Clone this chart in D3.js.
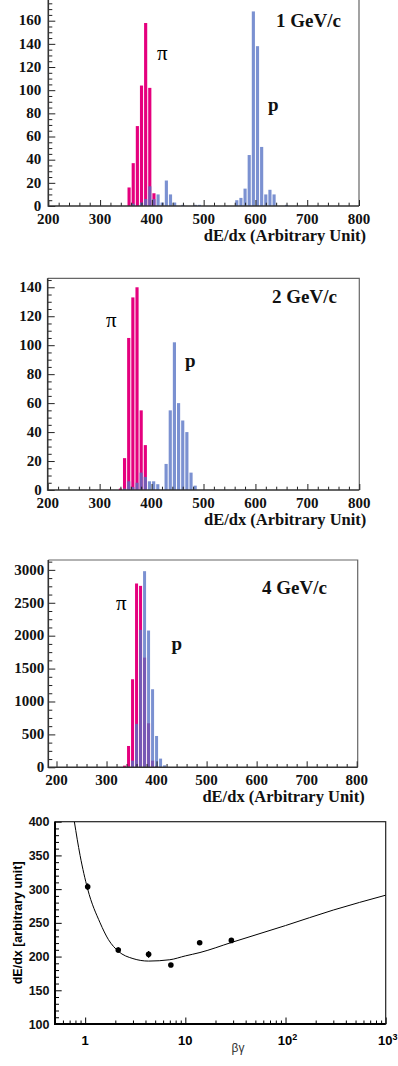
<!DOCTYPE html>
<html>
<head>
<meta charset="utf-8">
<script src="https://cdn.jsdelivr.net/npm/d3@7"></script>
<style>
  body { margin: 0; background: #fff; }
</style>
</head>
<body>
<div id="chart"></div>
<script>
// ---- histogram data (bin centres in dE/dx units, bin width 8) ----
const binWidth = 8;

const pion1Bins = [356, 364, 372, 380, 388, 396, 404];
const pion1Counts = [16, 37, 69, 104, 158, 102, 11];
const proton1Bins = [364, 380, 388, 396, 404, 412, 420, 428, 436, 444, 460, 484, 492,
  564, 572, 580, 588, 596, 604, 612, 620, 628, 636, 660];
const proton1Counts = [2, 3, 6, 17, 6, 10, 3, 22, 10, 3, 1, 1, 1,
  5, 7, 15, 44, 168, 138, 51, 10, 14, 10, 1];

const pion2Bins = [340, 348, 356, 364, 372, 380, 388];
const pion2Counts = [1, 22, 105, 133, 140, 55, 31];
const proton2Bins = [348, 356, 364, 372, 380, 388, 396, 404, 412, 428, 436, 444, 452, 460, 468, 476, 484];
const proton2Counts = [1, 6, 2, 5, 12, 9, 6, 6, 4, 18, 55, 102, 60, 48, 40, 12, 3];

const pion3Bins = [336, 344, 352, 360, 368, 376, 384, 392, 400];
const pion3Counts = [25, 324, 1338, 2793, 2757, 1667, 669, 101, 20];
const proton3Bins = [344, 352, 360, 368, 376, 384, 392, 400, 408, 416, 424];
const proton3Counts = [10, 101, 659, 2088, 2980, 2078, 1186, 476, 132, 30, 5];

const momentumLabels = ['1 GeV/c', '2 GeV/c', '4 GeV/c'];
const xTickValues = [200, 300, 400, 500, 600, 700, 800];

// ---- dE/dx vs beta*gamma ----
const bgValues = [1.06, 2.14, 4.3, 7.17, 13.9, 28.8];
const dedxValues = [303.6, 209.7, 203.3, 187.4, 220.5, 224];
const dedxErrors = [5, 4, 5, 2, 2, 2];

// fitted curve
const fitBg = [0.78, 0.89, 1.06, 1.41, 1.71, 2.14, 3, 4.3, 7, 10, 14, 29, 100, 300, 1000];
const fitDedx = [400, 350, 300, 250, 225, 208, 197, 193.3, 195.3, 201, 206, 221, 246, 269, 291];

const pink = '#e5007e';
const blue = 'rgba(86, 114, 196, 0.78)';
const serif = 'Liberation Serif';
const sans = 'Liberation Sans';

const svg = d3.select('#chart')
  .append('svg')
  .attr('width', 398)
  .attr('height', 1066);


// tick marks only; labels are drawn separately
function tickAxis(g) {
  g.select('.domain').remove();
  g.selectAll('.tick line').attr('stroke', '#222').attr('stroke-width', 1);
}

function labels(g, vals, fx, fy, anchor, font, size, fmt) {
  g.append('g')
    .selectAll('text')
    .data(vals)
    .enter()
    .append('text')
    .attr('x', fx)
    .attr('y', fy)
    .attr('text-anchor', anchor)
    .attr('fill', '#111')
    .style('font-family', font)
    .style('font-size', size + 'px')
    .style('font-weight', 'bold')
    .text(fmt);
}


function drawHist(o) {
  const g = svg.append('g');

  const x = d3.scaleLinear().domain(o.xDomain).range([o.left, o.right]);
  const y = d3.scaleLinear().domain([0, o.yMax]).range([o.bottom, o.top]);
  const bw = x(binWidth) - x(0);

  const bars = (bins, counts, fill) => {
    g.append('g')
      .selectAll('rect')
      .data(bins.map((b, i) => ({c: b, n: counts[i]})))
      .enter()
      .append('rect')
      .attr('x', d => x(d.c - binWidth / 2) + 0.5)
      .attr('width', bw - 1)
      .attr('y', d => y(d.n))
      .attr('height', d => y(0) - y(d.n))
      .attr('fill', fill);
  };
  bars(o.pionBins, o.pionCounts, pink);
  bars(o.protonBins, o.protonCounts, blue);

  // right / top frame
  g.append('path')
    .attr('d', `M${o.left},${o.top}H${o.right}V${o.bottom}`)
    .attr('fill', 'none')
    .attr('stroke', '#666')
    .attr('stroke-width', 1.2);

  // x axis
  const xMinor = d3.range(200, o.xDomain[1] + 0.1, 20).filter(v => v % 100 !== 0);
  g.append('g')
    .attr('transform', `translate(0,${o.bottom})`)
    .call(d3.axisBottom(x).tickValues(xMinor).tickSize(-3.3).tickFormat(''))
    .call(tickAxis);
  g.append('g')
    .attr('transform', `translate(0,${o.bottom})`)
    .call(d3.axisBottom(x).tickValues(xTickValues).tickSize(-6).tickFormat(''))
    .call(tickAxis);
  labels(g, xTickValues, d => x(d), o.bottom + 17.5, 'middle', serif, 15, d => d);

  // y axis
  const yMajor = d3.range(0, o.yMax, o.yStep);
  const yMinor = d3.range(0, o.yMax, o.yStep / 4).filter(v => v % o.yStep !== 0);
  g.append('g')
    .attr('transform', `translate(${o.left},0)`)
    .call(d3.axisLeft(y).tickValues(yMinor).tickSize(-4).tickFormat(''))
    .call(tickAxis);
  g.append('g')
    .attr('transform', `translate(${o.left},0)`)
    .call(d3.axisLeft(y).tickValues(yMajor).tickSize(-7).tickFormat(''))
    .call(tickAxis);
  labels(g, yMajor, o.left - o.yPad, d => y(d) + 4.8, 'end', serif, 15, d => d);

  // left / bottom axis lines
  g.append('path')
    .attr('d', `M${o.left},${o.top}V${o.bottom}H${o.right}`)
    .attr('fill', 'none')
    .attr('stroke', '#333')
    .attr('stroke-width', 1.6);

  // texts
  labels(g, ['dE/dx (Arbitrary Unit)'], o.right + 7, o.bottom + 35, 'end', serif, 16.5, d => d);
  labels(g, [o.momentum], o.momX, o.momY, 'end', serif, 19, d => d);
  labels(g, ['p'], o.pX, o.pY, 'start', serif, 19, d => d);

  g.append('text')
    .attr('x', o.piX)
    .attr('y', o.piY)
    .style('font-family', serif)
    .style('font-size', '21px')
    .text('π');
}

drawHist({
  left: 48.3, right: 359, top: -0.5, bottom: 206,
  xDomain: [200, 800], yMax: 178.3, yStep: 20, yPad: 7,
  pionBins: pion1Bins, pionCounts: pion1Counts,
  protonBins: proton1Bins, protonCounts: proton1Counts,
  momentum: momentumLabels[0], momX: 341, momY: 26.7,
  piX: 157, piY: 60, pX: 268, pY: 110.5
});

drawHist({
  left: 47.7, right: 359.3, top: 278.3, bottom: 490,
  xDomain: [200, 800], yMax: 146.2, yStep: 20, yPad: 6,
  pionBins: pion2Bins, pionCounts: pion2Counts,
  protonBins: proton2Bins, protonCounts: proton2Counts,
  momentum: momentumLabels[1], momX: 337, momY: 302.5,
  piX: 106, piY: 327.3, pX: 185, pY: 366.5
});

drawHist({
  left: 48.3, right: 357.7, top: 560, bottom: 767.3,
  xDomain: [183.6, 802], yMax: 3150, yStep: 500, yPad: 4,
  pionBins: pion3Bins, pionCounts: pion3Counts,
  protonBins: proton3Bins, protonCounts: proton3Counts,
  momentum: momentumLabels[2], momX: 327, momY: 594,
  piX: 116, piY: 610, pX: 171.5, pY: 650
});


// ---- bottom panel: dE/dx vs beta gamma ----
(function () {
  const left = 55, right = 385.7, top = 821.7, bottom = 1024;
  const g = svg.append('g');
  const x = d3.scaleLog().domain([0.5, 1000]).range([left, right]);
  const y = d3.scaleLinear().domain([100, 400]).range([bottom, top]);

  g.append('defs').append('clipPath').attr('id', 'frame4')
    .append('rect').attr('x', left).attr('y', top)
    .attr('width', right - left).attr('height', bottom - top);

  // ticks
  const xMajor = [1, 10, 100, 1000];
  const xMinor = [];
  [0.1, 1, 10, 100].forEach(d => {
    for (let k = 2; k <= 9; k++) {
      const v = d * k;
      if (v >= 0.5 && v <= 1000) xMinor.push(v);
    }
  });
  g.append('g')
    .attr('transform', `translate(0,${bottom})`)
    .call(d3.axisBottom(x).tickValues(xMinor).tickSize(-3.5).tickFormat(''))
    .call(tickAxis);
  g.append('g')
    .attr('transform', `translate(0,${bottom})`)
    .call(d3.axisBottom(x).tickValues(xMajor).tickSize(-6.5).tickFormat(''))
    .call(tickAxis);

  const yMajor = d3.range(100, 401, 50);
  const yMinor = d3.range(100, 401, 10).filter(v => v % 50 !== 0);
  g.append('g')
    .attr('transform', `translate(${left},0)`)
    .call(d3.axisLeft(y).tickValues(yMinor).tickSize(-4).tickFormat(''))
    .call(tickAxis);
  g.append('g')
    .attr('transform', `translate(${left},0)`)
    .call(d3.axisLeft(y).tickValues(yMajor).tickSize(-6.7).tickFormat(''))
    .call(tickAxis);
  g.selectAll('.tick line').attr('stroke', '#000');
  labels(g, yMajor, left - 5.5, d => y(d) + 4.5, 'end', sans, 12.5, d => d);

  // x tick labels with powers of ten
  const xl = g.append('g')
    .style('font-family', sans)
    .style('font-weight', 'bold')
    .style('font-size', '13px')
    .attr('text-anchor', 'middle');
  xMajor.forEach(v => {
    const e = Math.round(Math.log10(v));
    const t = xl.append('text').attr('x', x(v)).attr('y', bottom + 21);
    if (e < 2) {
      t.text(String(v));
    } else {
      t.attr('x', x(v) + 2);
      t.append('tspan').text('10');
      t.append('tspan').attr('dy', -5).style('font-size', '9px').text(String(e));
    }
  });

  // frame
  g.append('rect')
    .attr('x', left).attr('y', top)
    .attr('width', right - left).attr('height', bottom - top)
    .attr('fill', 'none').attr('stroke', '#222').attr('stroke-width', 1.2);
  g.append('path')
    .attr('d', `M${left},${top}V${bottom}H${right}`)
    .attr('fill', 'none').attr('stroke', '#000').attr('stroke-width', 2);

  // fit curve
  const line = d3.line()
    .x(d => x(d[0]))
    .y(d => y(d[1]))
    .curve(d3.curveMonotoneX);
  g.append('path')
    .datum(fitBg.map((b, i) => [b, fitDedx[i]]))
    .attr('clip-path', 'url(#frame4)')
    .attr('d', line)
    .attr('fill', 'none')
    .attr('stroke', '#000')
    .attr('stroke-width', 1);

  // points with error bars
  const pts = bgValues.map((b, i) => ({b: b, v: dedxValues[i], e: dedxErrors[i]}));
  g.append('g').selectAll('line')
    .data(pts).enter().append('line')
    .attr('x1', d => x(d.b)).attr('x2', d => x(d.b))
    .attr('y1', d => y(d.v - d.e)).attr('y2', d => y(d.v + d.e))
    .attr('stroke', '#000').attr('stroke-width', 1.2);
  g.append('g').selectAll('circle')
    .data(pts).enter().append('circle')
    .attr('cx', d => x(d.b)).attr('cy', d => y(d.v))
    .attr('r', 2.8).attr('fill', '#000');

  // axis titles
  g.append('text')
    .attr('transform', `translate(22,${(top + bottom) / 2}) rotate(-90)`)
    .attr('text-anchor', 'middle')
    .style('font-family', sans)
    .style('font-weight', 'bold')
    .style('font-size', '12.5px')
    .text('dE/dx [arbitrary unit]');

  g.append('text')
    .attr('x', 238)
    .attr('y', 1052)
    .attr('text-anchor', 'middle')
    .style('font-family', sans)
    .style('font-size', '12px')
    .attr('fill', '#333')
    .text('βγ');
})();
</script>
</body>
</html>
